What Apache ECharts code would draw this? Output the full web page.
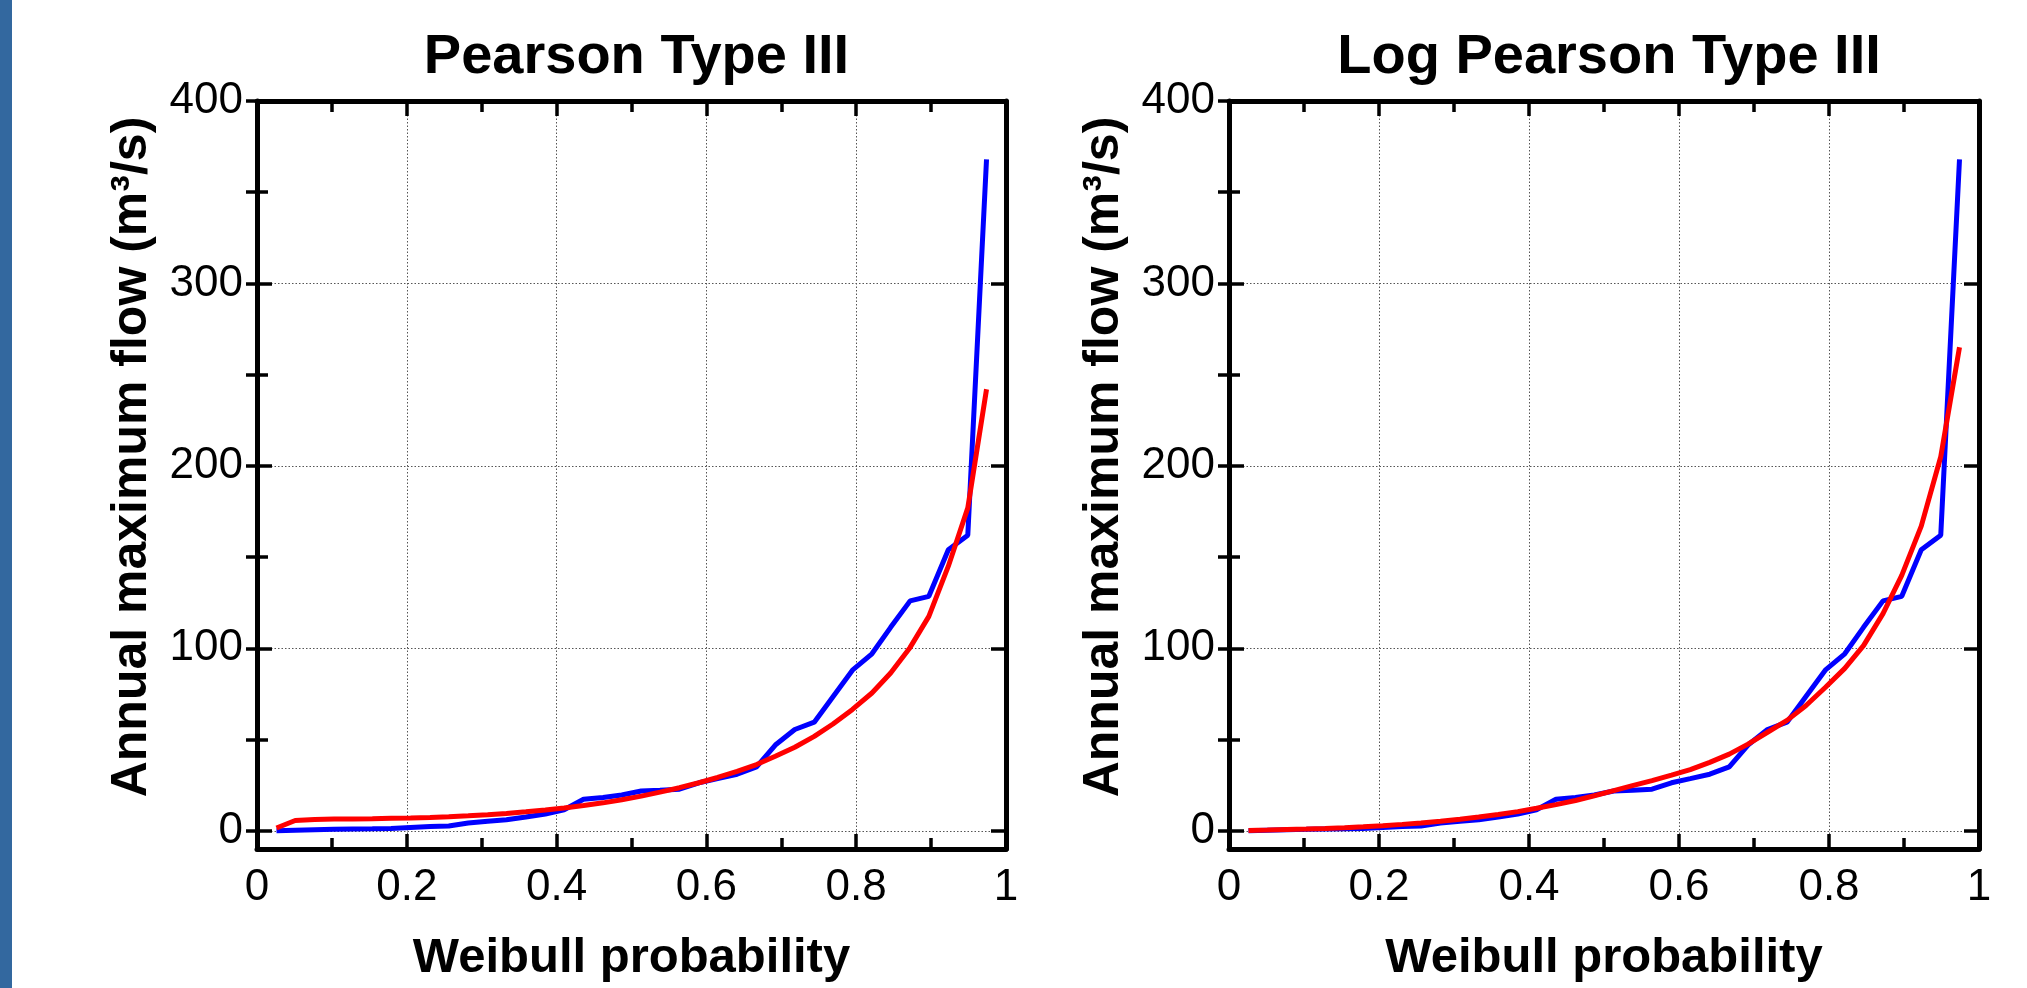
<!DOCTYPE html>
<html>
<head>
<meta charset="utf-8">
<title>Pearson Type III / Log Pearson Type III</title>
<script src="https://cdn.jsdelivr.net/npm/echarts@6/dist/echarts.min.js"></script>
<style>
  html, body { margin: 0; padding: 0; background: #fff; }
  #chart { width: 2027px; height: 988px; }
  #edge { position: absolute; left: 0; top: 0; width: 12px; height: 988px; background: #33689f; z-index: 2; }
</style>
</head>
<body>
<div id="edge"></div>
<div id="chart"></div>
<script>
// Weibull plotting positions (m / (n + 1), n = 38)
const weibullProbability = [
  0.026, 0.051, 0.077, 0.103, 0.128, 0.154, 0.179, 0.205, 0.231, 0.256,
  0.282, 0.308, 0.333, 0.359, 0.385, 0.410, 0.436, 0.462, 0.487, 0.513,
  0.538, 0.564, 0.590, 0.615, 0.641, 0.667, 0.692, 0.718, 0.744, 0.769,
  0.795, 0.821, 0.846, 0.872, 0.897, 0.923, 0.949, 0.974,
];
// observed annual maximum flow, sorted (blue)
const observedFlow = [
  0, 0.3, 0.6, 0.8, 1.0, 1.1, 1.3, 1.8, 2.3, 2.6,
  4.2, 5.2, 6.0, 7.5, 9.2, 11.5, 17.3, 18.2, 19.6, 21.8,
  22.2, 22.8, 26.3, 28.6, 31.0, 35.0, 47.0, 55.5, 59.5, 73.5,
  88.0, 97.0, 111.5, 126.0, 128.5, 154.0, 162.0, 368.0,
];
// fitted Pearson Type III (red, left)
const pearsonFlow = [
  1.5, 5.6, 6.2, 6.4, 6.5, 6.6, 6.8, 7.0, 7.3, 7.7,
  8.2, 8.8, 9.5, 10.4, 11.4, 12.5, 13.8, 15.3, 17.0, 19.0,
  21.2, 23.6, 26.3, 29.2, 32.5, 36.3, 40.8, 45.8, 51.7, 58.5,
  66.5, 75.5, 86.5, 100.5, 117.5, 145.0, 177.0, 242.0,
];
// fitted Log Pearson Type III (red, right)
const logPearsonFlow = [
  0.2, 0.4, 0.7, 1.0, 1.3, 1.7, 2.2, 2.8, 3.5, 4.3,
  5.2, 6.3, 7.5, 8.9, 10.5, 12.3, 14.3, 16.6, 19.2, 22.0,
  24.7, 27.5, 30.5, 33.5, 37.5, 42.0, 47.5, 54.0, 60.5, 68.5,
  78.5, 89.0, 101.5, 119.0, 140.0, 167.0, 205.0, 265.0,
];
const titles = ['Pearson Type III', 'Log Pearson Type III'];
const yLabelValues = [0, 100, 200, 300, 400];
const yMinorValues = [0, 50, 100, 150, 200, 250, 300, 350, 400];

const FONT = 'Liberation Sans';
const grids = [
  { left: 257, top: 101, width: 749, height: 749 },
  { left: 1229, top: 101, width: 750, height: 749 },
];

function pairs(xs, ys) {
  return xs.map((x, i) => [x, ys[i]]);
}

function buildXAxes(gridIndex) {
  const base = {
    type: 'value',
    gridIndex,
    min: 0,
    max: 1,
    interval: 0.2,
    axisLine: { show: true, onZero: false, lineStyle: { color: '#000', width: 5 } },
    axisTick: { show: true, inside: true, length: 15, lineStyle: { color: '#000', width: 3.5 } },
    minorTick: { show: true, splitNumber: 2, length: 11, lineStyle: { color: '#000', width: 3.5 } },
  };
  return [
    {
      ...base,
      position: 'bottom',
      name: 'Weibull probability',
      nameLocation: 'middle',
      nameGap: 85,
      nameTextStyle: { fontFamily: FONT, fontSize: 49, fontWeight: 'bold', color: '#000' },
      axisLabel: {
        margin: 17, fontFamily: FONT, fontSize: 44, color: '#000',
        formatter: (v) => String(Math.round(v * 10) / 10),
      },
      splitLine: { show: true, lineStyle: { color: '#555', width: 1, type: [1.5, 2] } },
    },
    {
      ...base,
      position: 'top',
      axisLabel: { show: false },
      splitLine: { show: false },
    },
  ];
}

function buildYAxes(gridIndex) {
  const base = {
    type: 'value',
    gridIndex,
    min: -10,
    max: 400,
    axisLabel: { show: false },
    splitLine: { show: false },
  };
  const line = { show: true, onZero: false, lineStyle: { color: '#000', width: 5 } };
  const major = { show: true, inside: true, length: 15, customValues: yLabelValues, lineStyle: { color: '#000', width: 3.5 } };
  const minor = { show: true, inside: true, length: 11, customValues: yMinorValues, lineStyle: { color: '#000', width: 3.5 } };
  return [
    {
      ...base,
      position: 'left',
      name: 'Annual maximum flow (m³/s)',
      nameLocation: 'middle',
      nameGap: 100,
      nameTextStyle: {
        fontFamily: FONT, fontSize: 50, fontWeight: 'bold', color: '#000',
        padding: [0, 0, 0, 36],
      },
      axisLine: line,
      axisTick: major,
      axisLabel: {
        show: true, margin: 14, fontFamily: FONT, fontSize: 44, color: '#000',
        customValues: yLabelValues,
      },
      splitLine: { show: true, lineStyle: { color: '#555', width: 1, type: [1.5, 2] } },
    },
    { ...base, position: 'left', axisLine: { show: false }, axisTick: minor },
    { ...base, position: 'right', axisLine: line, axisTick: major },
    { ...base, position: 'right', axisLine: { show: false }, axisTick: minor },
  ];
}

function buildSeries(gridIndex, fitted) {
  const lineOf = (color, data) => ({
    type: 'line',
    xAxisIndex: gridIndex * 2,
    yAxisIndex: gridIndex * 4,
    data,
    showSymbol: false,
    symbol: 'none',
    clip: false,
    lineStyle: { color, width: 5 },
    itemStyle: { color },
  });
  return [
    lineOf('#0000ff', pairs(weibullProbability, observedFlow)),
    lineOf('#ff0000', pairs(weibullProbability, fitted)),
  ];
}

const chart = echarts.init(document.getElementById('chart'), null, { renderer: 'canvas' });
chart.setOption({
  animation: false,
  backgroundColor: '#fff',
  title: titles.map((text, i) => ({
    text,
    left: grids[i].left + grids[i].width / 2,
    top: 25,
    textAlign: 'center',
    textStyle: { fontFamily: FONT, fontSize: 56, fontWeight: 'bold', color: '#000' },
  })),
  grid: grids,
  xAxis: [...buildXAxes(0), ...buildXAxes(1)],
  yAxis: [...buildYAxes(0), ...buildYAxes(1)],
  series: [...buildSeries(0, pearsonFlow), ...buildSeries(1, logPearsonFlow)],
});
</script>
</body>
</html>
